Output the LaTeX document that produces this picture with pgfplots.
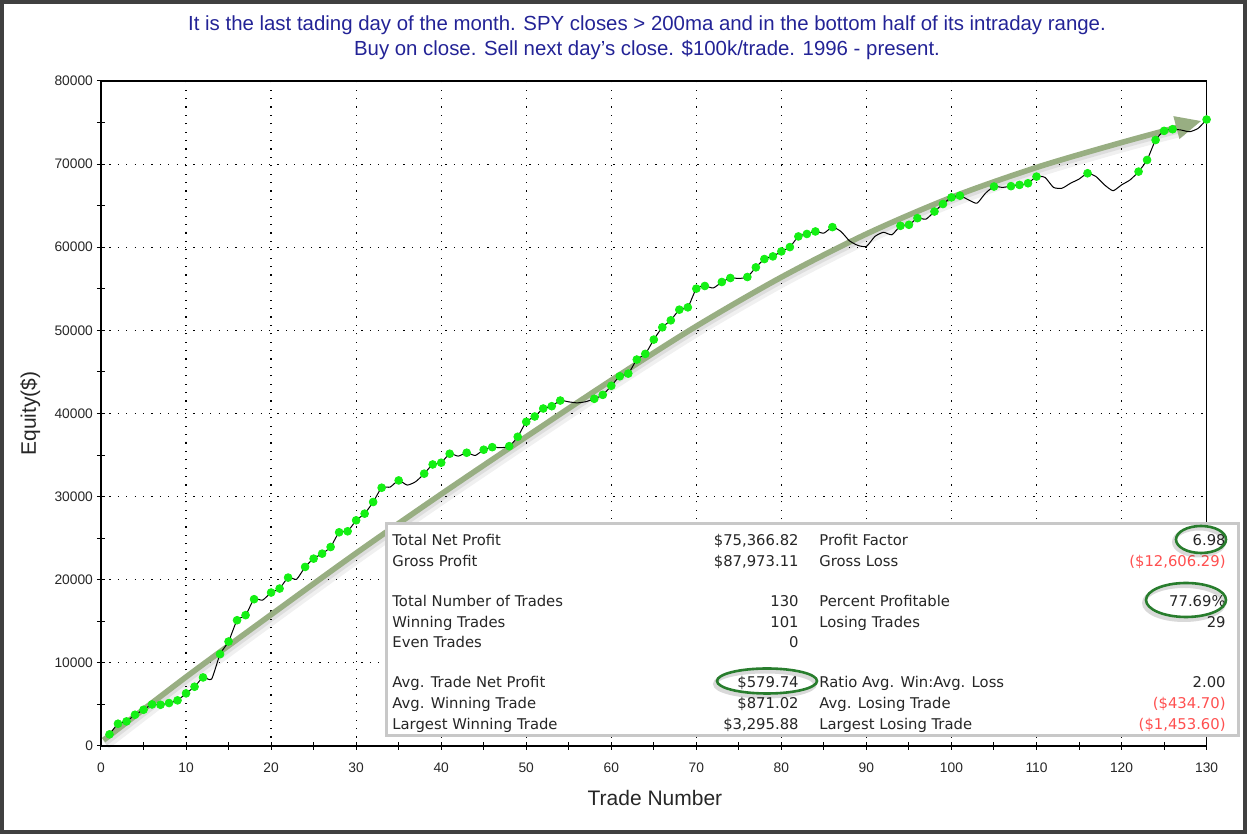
\documentclass[border=0pt]{standalone}
\usepackage{pgfplots}
\pgfplotsset{compat=1.18}
\usepackage{pgfplotstable}
\usepackage{fontspec}
\setmainfont{Liberation Sans}
\newfontfamily\statfont{DejaVu Sans}
\usetikzlibrary{arrows.meta}
\definecolor{titleblue}{RGB}{35,35,150}
\definecolor{dotgreen}{RGB}{20,240,20}
\definecolor{arrowgreen}{RGB}{152,174,130}
\definecolor{ellgreen}{RGB}{40,125,45}
\definecolor{lossred}{RGB}{255,80,80}
\definecolor{boxgray}{RGB}{200,200,200}

\pgfplotstableread{
t y d
1 1400 1
2 2680 1
3 2960 1
4 3760 1
5 4360 1
6 5000 1
7 4960 1
8 5170 1
9 5490 1
10 6330 1
11 7130 1
12 8250 1
13 8050 0
14 11050 1
15 12570 1
16 15130 1
17 15740 1
18 17660 1
19 17550 0
20 18460 1
21 18940 1
22 20260 1
23 20060 0
24 21540 1
25 22540 1
26 23140 1
27 23940 1
28 25710 1
29 25830 1
30 27150 1
31 27950 1
32 29350 1
33 31070 1
34 31150 0
35 31950 1
36 31390 0
37 31800 0
38 32760 1
39 33870 1
40 34080 1
41 35160 1
42 34870 0
43 35280 1
44 34950 0
45 35640 1
46 35950 1
47 35880 0
48 36070 1
49 37200 1
50 39000 1
51 39640 1
52 40600 1
53 40880 1
54 41560 1
55 41400 0
56 41280 0
57 41420 0
58 41770 1
59 42240 1
60 43330 1
61 44480 1
62 44800 1
63 46490 1
64 47170 1
65 48890 1
66 50370 1
67 51210 1
68 52490 1
69 52770 1
70 55020 1
71 55340 1
72 55100 0
73 55820 1
74 56300 1
75 56250 0
76 56420 1
77 57580 1
78 58580 1
79 58900 1
80 59500 1
81 60020 1
82 61300 1
83 61600 1
84 61900 1
85 61700 0
86 62420 1
87 61900 0
88 60780 0
89 60220 0
90 60100 0
91 61300 0
92 61800 0
93 61500 0
94 62580 1
95 62700 1
96 63500 1
97 63380 0
98 64300 1
99 65200 1
100 66000 1
101 66200 1
102 65700 0
103 65300 0
104 66500 0
105 67300 1
106 67200 0
107 67350 1
108 67500 1
109 67700 1
110 68500 1
111 68400 0
112 67200 0
113 67100 0
114 67700 0
115 68200 0
116 68900 1
117 68500 0
118 67500 0
119 66800 0
120 67500 0
121 68100 0
122 69100 1
123 70500 1
124 72900 1
125 74000 1
126 74200 1
127 74100 0
128 73900 0
129 74300 0
130 75367 1
}\equity

\begin{document}
\begin{tikzpicture}
\begin{axis}[
  at={(0,0)}, anchor=south west,
  scale only axis, width=552.8pt, height=332.5pt,
  xmin=0, xmax=130, ymin=0, ymax=80000,
  xtick={0,10,...,130}, ytick={0,10000,...,80000},
  minor x tick num=1, minor y tick num=1,
  tick align=center, tick pos=left,
  major tick length=4pt, minor tick length=4pt,
  tick style={black, line width=0.5pt},
  grid=major,
  major grid style={black, line width=0.6pt, dash pattern=on 0.6pt off 3.6pt},
  axis line style={black, line width=0.6pt},
  scaled y ticks=false,
  /pgf/number format/1000 sep={},
  /pgf/number format/assume math mode=true,
  ticklabel style={font=\fontsize{6.9}{8}\selectfont, text=black!85},
  yticklabel style={xshift=1.5pt},
  xticklabel style={yshift=-3pt},
  xlabel={Trade Number}, ylabel={Equity(\$)},
  label style={font=\fontsize{10.5}{12}\selectfont, text=black!85},
  xlabel style={at={(axis description cs:0.501,-0.078)}, anchor=center},
  ylabel style={at={(axis description cs:-0.064,0.5)}, anchor=center},
  clip=false,
]
% trend arrow (annotation) with soft shadow
\addplot[smooth, line width=5pt, black, opacity=0.06, yshift=-2.2pt, xshift=1.2pt] coordinates {
(0.3,700) (10,8300) (20,15800) (30,23200) (40,30300) (50,37200) (60,44000) (70,50500) (80,56400) (90,61600) (100,66000) (110,69600) (120,72600) (127,74500)};
\addplot[smooth, line width=3pt, black, opacity=0.08, yshift=-1.4pt, xshift=0.8pt] coordinates {
(0.3,700) (10,8300) (20,15800) (30,23200) (40,30300) (50,37200) (60,44000) (70,50500) (80,56400) (90,61600) (100,66000) (110,69600) (120,72600) (127,74500)};
\addplot[smooth, line width=2.8pt, arrowgreen, -{Triangle[length=13pt, width=11pt]}] coordinates {
(0.3,700) (10,8300) (20,15800) (30,23200) (40,30300) (50,37200) (60,44000) (70,50500) (80,56400) (90,61600) (100,66000) (110,69600) (120,72600) (129.4,75200)};
% equity line
\addplot[black, line width=0.5pt, smooth, tension=0.35, no markers] table[x=t, y=y] {\equity};
% new-high dots
\addplot[only marks, mark=*, mark size=1.95pt, mark options={fill=dotgreen, draw=dotgreen},
  restrict expr to domain={\thisrow{d}}{1:1}] table[x=t, y=y] {\equity};
\end{axis}
\begin{scope}[x=0.5pt, y=-0.5pt, xshift=-50.5pt, yshift=373pt]
  \path (0,0) rectangle (1247,834);
  \draw[black!75, line width=2pt] (2,2) rectangle (1245,832);
  % title
  \node[text=titleblue, font=\fontsize{10.2}{12}\selectfont] at (647,25) {It is the last tading day of the month. SPY closes > 200ma and in the bottom half of its intraday range.};
  \node[text=titleblue, font=\fontsize{10.2}{12}\selectfont] at (647,50) {Buy on close. Sell next day's close. \$100k/trade. 1996 - present.};
  % stats box
  \fill[white] (386,524) rectangle (1238,736);
  \draw[boxgray, line width=1.5pt] (386,524) rectangle (1238,736);
  \begin{scope}[every node/.style={font=\statfont\fontsize{7.4}{9}\selectfont, text=black!85, inner sep=0pt}]
    \node[anchor=mid west] at (392,540) {Total Net Profit};
    \node[anchor=mid west] at (392,561) {Gross Profit};
    \node[anchor=mid west] at (392,601) {Total Number of Trades};
    \node[anchor=mid west] at (392,622) {Winning Trades};
    \node[anchor=mid west] at (392,642) {Even Trades};
    \node[anchor=mid west] at (392,682) {Avg. Trade Net Profit};
    \node[anchor=mid west] at (392,703) {Avg. Winning Trade};
    \node[anchor=mid west] at (392,724) {Largest Winning Trade};
    \node[anchor=mid east] at (799,540) {\$75,366.82};
    \node[anchor=mid east] at (799,561) {\$87,973.11};
    \node[anchor=mid east] at (799,601) {130};
    \node[anchor=mid east] at (799,622) {101};
    \node[anchor=mid east] at (799,642) {0};
    \node[anchor=mid east] at (799,682) {\$579.74};
    \node[anchor=mid east] at (799,703) {\$871.02};
    \node[anchor=mid east] at (799,724) {\$3,295.88};
    \node[anchor=mid west] at (819,540) {Profit Factor};
    \node[anchor=mid west] at (819,561) {Gross Loss};
    \node[anchor=mid west] at (819,601) {Percent Profitable};
    \node[anchor=mid west] at (819,622) {Losing Trades};
    \node[anchor=mid west] at (819,682) {Ratio Avg. Win:Avg. Loss};
    \node[anchor=mid west] at (819,703) {Avg. Losing Trade};
    \node[anchor=mid west] at (819,724) {Largest Losing Trade};
    \node[anchor=mid east] at (1226,540) {6.98};
    \node[anchor=mid east, text=lossred] at (1226,561) {(\$12,606.29)};
    \node[anchor=mid east] at (1226,601) {77.69\%};
    \node[anchor=mid east] at (1226,622) {29};
    \node[anchor=mid east] at (1226,682) {2.00};
    \node[anchor=mid east, text=lossred] at (1226,703) {(\$434.70)};
    \node[anchor=mid east, text=lossred] at (1226,724) {(\$1,453.60)};
  \end{scope}
  % green ellipses with shadow
  \draw[black, opacity=0.15, line width=2pt] (1199,542) ellipse [x radius=25, y radius=13.5];
  \draw[ellgreen, line width=1.3pt] (1201,539.5) ellipse [x radius=25, y radius=13.5];
  \draw[black, opacity=0.15, line width=2pt] (1184,603) ellipse [x radius=40, y radius=17];
  \draw[ellgreen, line width=1.3pt] (1186,600) ellipse [x radius=40, y radius=17];
  \draw[black, opacity=0.15, line width=2pt] (765,684) ellipse [x radius=50, y radius=12.5];
  \draw[ellgreen, line width=1.3pt] (767,681) ellipse [x radius=50, y radius=12.5];
\end{scope}
\end{tikzpicture}
\end{document}
